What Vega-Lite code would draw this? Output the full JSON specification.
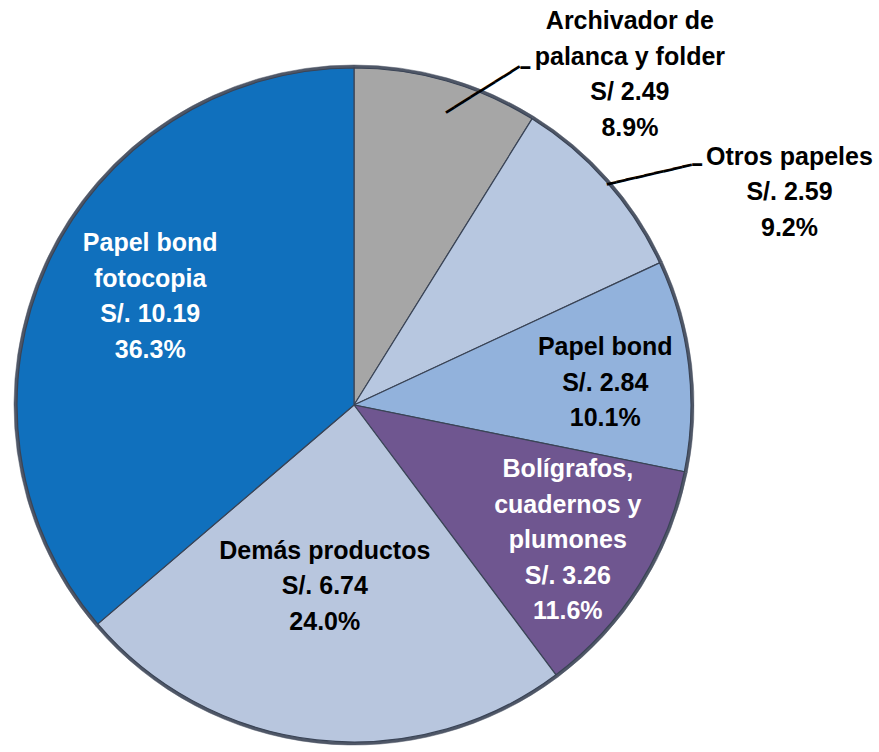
{
  "$schema": "https://vega.github.io/schema/vega-lite/v6.json",
  "width": 708,
  "height": 694,
  "autosize": "none",
  "padding": {"left": 0, "top": 58, "right": 171, "bottom": 0},
  "background": "white",
  "view": {"stroke": null},
  "data": {
    "values": [
      {"ord": 1, "cat": "Archivador de palanca y folder", "value": 2.49, "label": "Archivador de\npalanca y folder\nS/ 2.49\n8.9%"},
      {"ord": 2, "cat": "Otros papeles", "value": 2.59, "label": "Otros papeles\nS/. 2.59\n9.2%"},
      {"ord": 3, "cat": "Papel bond", "value": 2.84, "label": "Papel bond\nS/. 2.84\n10.1%"},
      {"ord": 4, "cat": "Bolígrafos, cuadernos y plumones", "value": 3.26, "label": "Bolígrafos,\ncuadernos y\nplumones\nS/. 3.26\n11.6%"},
      {"ord": 5, "cat": "Demás productos", "value": 6.74, "label": "Demás productos\nS/. 6.74\n24.0%"},
      {"ord": 6, "cat": "Papel bond fotocopia", "value": 10.19, "label": "Papel bond\nfotocopia\nS/. 10.19\n36.3%"}
    ]
  },
  "encoding": {
    "theta": {"field": "value", "type": "quantitative", "stack": true},
    "order": {"field": "ord", "type": "quantitative"}
  },
  "layer": [
    {
      "mark": {"type": "arc", "radius": 340, "color": "#4f5767", "stroke": "#4f5767", "strokeWidth": 0.5}
    },
    {
      "mark": {"type": "arc", "radius": 337, "stroke": "#3a4456", "strokeWidth": 1.2},
      "encoding": {
        "color": {
          "field": "cat", "type": "nominal", "legend": null,
          "scale": {
            "domain": ["Archivador de palanca y folder", "Otros papeles", "Papel bond", "Bolígrafos, cuadernos y plumones", "Demás productos", "Papel bond fotocopia"],
            "range": ["#a6a6a6", "#b7c7e0", "#92b2dc", "#6f5690", "#b8c6de", "#1070bd"]
          }
        }
      }
    },
    {
      "mark": {"type": "text", "radius": 231, "dx": 6, "dy": -65, "font": "Liberation Sans", "fontSize": 25, "fontWeight": "bold", "lineHeight": 35.5, "lineBreak": "\n", "color": "white", "align": "center", "baseline": "middle"},
      "encoding": {"text": {"condition": {"test": "datum.cat === 'Papel bond fotocopia'", "field": "label"}, "value": ""}}
    },
    {
      "mark": {"type": "text", "radius": 183, "dx": -9, "dy": -36, "font": "Liberation Sans", "fontSize": 25, "fontWeight": "bold", "lineHeight": 35.5, "lineBreak": "\n", "color": "black", "align": "center", "baseline": "middle"},
      "encoding": {"text": {"condition": {"test": "datum.cat === 'Demás productos'", "field": "label"}, "value": ""}}
    },
    {
      "mark": {"type": "text", "radius": 253, "dx": 0, "dy": -71, "font": "Liberation Sans", "fontSize": 25, "fontWeight": "bold", "lineHeight": 35.5, "lineBreak": "\n", "color": "white", "align": "center", "baseline": "middle"},
      "encoding": {"text": {"condition": {"test": "datum.cat === 'Bolígrafos, cuadernos y plumones'", "field": "label"}, "value": ""}}
    },
    {
      "mark": {"type": "text", "radius": 252, "dx": 1, "dy": -28, "font": "Liberation Sans", "fontSize": 25, "fontWeight": "bold", "lineHeight": 35.5, "lineBreak": "\n", "color": "black", "align": "center", "baseline": "middle"},
      "encoding": {"text": {"condition": {"test": "datum.cat === 'Papel bond'", "field": "label"}, "value": ""}}
    },
    {
      "mark": {"type": "text", "radius": 400, "dx": 136, "dy": 17, "font": "Liberation Sans", "fontSize": 25, "fontWeight": "bold", "lineHeight": 35.5, "lineBreak": "\n", "color": "black", "align": "center", "baseline": "middle"},
      "encoding": {"text": {"condition": {"test": "datum.cat === 'Otros papeles'", "field": "label"}, "value": ""}}
    },
    {
      "mark": {"type": "text", "radius": 400, "dx": 166, "dy": 1, "font": "Liberation Sans", "fontSize": 25, "fontWeight": "bold", "lineHeight": 35.5, "lineBreak": "\n", "color": "black", "align": "center", "baseline": "middle"},
      "encoding": {"text": {"condition": {"test": "datum.cat === 'Archivador de palanca y folder'", "field": "label"}, "value": ""}}
    },
    {
      "mark": {"type": "text", "radius": 340, "dx": 24, "dy": 29, "angle": 328, "font": "DejaVu Sans Mono", "fontSize": 16, "color": "black", "align": "center", "baseline": "middle"},
      "encoding": {"text": {"condition": {"test": "datum.cat === 'Archivador de palanca y folder'", "value": "━━━━━━━━━"}, "value": ""}}
    },
    {
      "mark": {"type": "text", "radius": 340, "dx": 78, "dy": -10, "font": "DejaVu Sans Mono", "fontSize": 16, "color": "black", "align": "center", "baseline": "middle"},
      "encoding": {"text": {"condition": {"test": "datum.cat === 'Archivador de palanca y folder'", "value": "━"}, "value": ""}}
    },
    {
      "mark": {"type": "text", "radius": 374, "dx": 11, "dy": 21, "angle": 347, "font": "DejaVu Sans Mono", "fontSize": 16, "color": "black", "align": "center", "baseline": "middle"},
      "encoding": {"text": {"condition": {"test": "datum.cat === 'Otros papeles'", "value": "━━━━━━━━━"}, "value": ""}}
    },
    {
      "mark": {"type": "text", "radius": 374, "dx": 63, "dy": 8, "font": "DejaVu Sans Mono", "fontSize": 16, "color": "black", "align": "center", "baseline": "middle"},
      "encoding": {"text": {"condition": {"test": "datum.cat === 'Otros papeles'", "value": "━"}, "value": ""}}
    }
  ]
}
